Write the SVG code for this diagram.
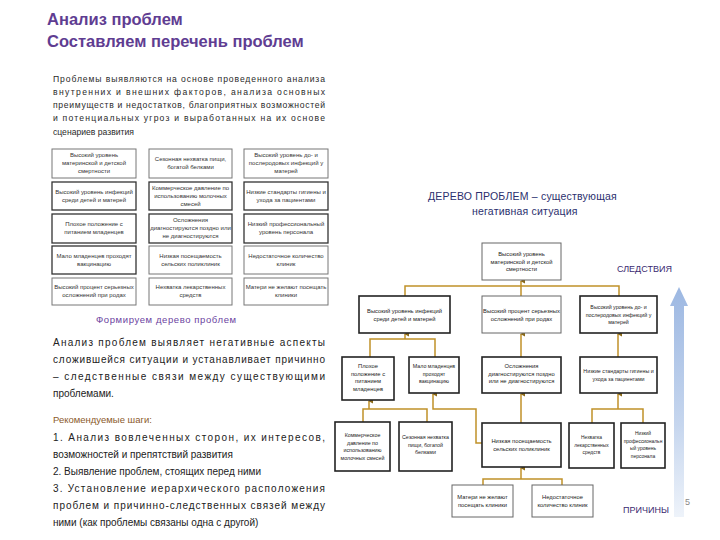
<svg xmlns="http://www.w3.org/2000/svg" width="720" height="540" viewBox="0 0 720 540">
<defs>
<style>
.title{font-family:"Liberation Sans",Arial,sans-serif;font-weight:bold;font-size:16.5px;fill:#5f3d92}
.p1{font-family:"Liberation Sans",Arial,sans-serif;font-size:8.6px;fill:#2a2a2a}
.p2{font-family:"Liberation Sans",Arial,sans-serif;font-size:10px;fill:#222}
.hd{font-family:"Liberation Sans",Arial,sans-serif;font-size:9.5px;fill:#6b3fa0;letter-spacing:0.6px}
.rec{font-family:"Liberation Sans",Arial,sans-serif;font-size:9.5px;fill:#8b5a2b}
.lbl{font-family:"Liberation Sans",Arial,sans-serif;font-size:10.5px;fill:#2b2f6e;letter-spacing:0.2px}
.cap{font-family:"Liberation Sans",Arial,sans-serif;font-size:9px;fill:#3a2a70}
.bt{font-family:"Liberation Sans",Arial,sans-serif;font-size:6px;fill:#333;text-anchor:middle}
.tt{font-family:"Liberation Sans",Arial,sans-serif;font-size:5.8px;fill:#222;text-anchor:middle}
.sm{font-size:5.3px}
.xs{font-size:4.9px}
.gb{fill:#fff;stroke:#777;stroke-width:1}
.gd{fill:#fff;stroke:#333;stroke-width:1.3}
.tb{fill:#fff;stroke:#222;stroke-width:1.6}
.tn{fill:#fff;stroke:#666;stroke-width:1}
.cn{fill:none;stroke:#c09128;stroke-width:1.5}
</style>
<marker id="ah" viewBox="0 0 6 6" refX="3" refY="1" markerWidth="5" markerHeight="5" orient="auto-start-reverse" markerUnits="userSpaceOnUse">
<path d="M0,6 L3,0 L6,6 Z" fill="#8a6a1a"/>
</marker>
<linearGradient id="ag" x1="0" y1="0" x2="0" y2="1">
<stop offset="0" stop-color="#9db8e2"/>
<stop offset="0.6" stop-color="#c6d6ee"/>
<stop offset="1" stop-color="#eef3fa"/>
</linearGradient>
</defs>
<rect width="720" height="540" fill="#fff"/>

<g id="title">
<text class="title" x="47" y="25">Анализ проблем</text>
<text class="title" x="47" y="47">Составляем перечень  проблем</text>
</g>

<g id="intro">
<text class="p1" x="53" y="82" textLength="272" lengthAdjust="spacing">Проблемы выявляются на основе проведенного анализа</text>
<text class="p1" x="53" y="95" textLength="272" lengthAdjust="spacing">внутренних и внешних факторов, анализа основных</text>
<text class="p1" x="53" y="108" textLength="272" lengthAdjust="spacing">преимуществ и недостатков, благоприятных возможностей</text>
<text class="p1" x="53" y="121" textLength="272" lengthAdjust="spacing">и потенциальных угроз  и выработанных на их основе</text>
<text class="p1" x="53" y="135">сценариев развития</text>
</g>

<g id="grid">
<g id="g11"><rect class="gb" x="52" y="149" width="84" height="29"/><text class="bt" x="94" y="157">Высокий уровень</text><text class="bt" x="94" y="165">материнской и детской</text><text class="bt" x="94" y="173">смертности</text></g>
<g id="g12"><rect class="gb" x="149" y="149" width="83" height="29"/><text class="bt" x="190.5" y="161">Сезонная нехватка пищи,</text><text class="bt" x="190.5" y="169">богатой белками</text></g>
<g id="g13"><rect class="gb" x="244" y="149" width="84" height="29"/><text class="bt" x="286" y="157">Высокий уровень до- и</text><text class="bt" x="286" y="165">послеродовых инфекций у</text><text class="bt" x="286" y="173">матерей</text></g>

<g id="g21"><rect class="gd" x="52" y="182" width="84" height="28"/><text class="bt" x="94" y="194">Высокий уровень инфекций</text><text class="bt" x="94" y="202">среди детей и матерей</text></g>
<g id="g22"><rect class="gd" x="149" y="182" width="83" height="28"/><text class="bt" x="190.5" y="190">Коммерческое давление по</text><text class="bt" x="190.5" y="198">использованию молочных</text><text class="bt" x="190.5" y="206">смесей</text></g>
<g id="g23"><rect class="gd" x="244" y="182" width="84" height="28"/><text class="bt" x="286" y="194">Низкие стандарты гигиены и</text><text class="bt" x="286" y="202">ухода за пациентами</text></g>

<g id="g31"><rect class="gd" x="52" y="214" width="84" height="29"/><text class="bt" x="94" y="226">Плохое положение с</text><text class="bt" x="94" y="234">питанием младенцев</text></g>
<g id="g32"><rect class="gd" x="149" y="214" width="83" height="29"/><text class="bt" x="190.5" y="222">Осложнения</text><text class="bt" x="190.5" y="230">диагностируются поздно или</text><text class="bt" x="190.5" y="238">не диагностируются</text></g>
<g id="g33"><rect class="gd" x="244" y="214" width="84" height="29"/><text class="bt" x="286" y="226">Низкий профессиональный</text><text class="bt" x="286" y="234">уровень персонала</text></g>

<g id="g41"><rect class="gd" x="52" y="246" width="84" height="28"/><text class="bt" x="94" y="258">Мало младенцев проходят</text><text class="bt" x="94" y="266">вакцинацию</text></g>
<g id="g42"><rect class="gb" x="149" y="246" width="83" height="28"/><text class="bt" x="190.5" y="258">Низкая посещаемость</text><text class="bt" x="190.5" y="266">сельских поликлиник</text></g>
<g id="g43"><rect class="gb" x="244" y="246" width="84" height="28"/><text class="bt" x="286" y="258">Недостаточное количество</text><text class="bt" x="286" y="266">клиник</text></g>

<g id="g51"><rect class="gb" x="52" y="278" width="84" height="27"/><text class="bt" x="94" y="289">Высокий процент серьезных</text><text class="bt" x="94" y="297">осложнений при родах</text></g>
<g id="g52"><rect class="gb" x="149" y="278" width="83" height="27"/><text class="bt" x="190.5" y="289">Нехватка лекарственных</text><text class="bt" x="190.5" y="297">средств</text></g>
<g id="g53"><rect class="gb" x="244" y="278" width="84" height="27"/><text class="bt" x="286" y="289">Матери не желают посещать</text><text class="bt" x="286" y="297">клиники</text></g>
</g>

<g id="left-text">
<text class="hd" x="96" y="323">Формируем дерево проблем</text>
<text class="p2" x="53" y="346" textLength="272" lengthAdjust="spacing">Анализ проблем выявляет негативные аспекты</text>
<text class="p2" x="53" y="363" textLength="272" lengthAdjust="spacing">сложившейся ситуации и устанавливает причинно</text>
<text class="p2" x="53" y="380" textLength="272" lengthAdjust="spacing">– следственные связи между существующими</text>
<text class="p2" x="53" y="397">проблемами.</text>
<text class="rec" x="53" y="423">Рекомендуемые шаги:</text>
<text class="p2" x="53" y="441" textLength="272" lengthAdjust="spacing">1.  Анализ вовлеченных сторон, их интересов,</text>
<text class="p2" x="53" y="458">возможностей и препятствий развития</text>
<text class="p2" x="53" y="475">2. Выявление проблем, стоящих перед ними</text>
<text class="p2" x="53" y="492" textLength="272" lengthAdjust="spacing">3.  Установление иерархического расположения</text>
<text class="p2" x="53" y="509" textLength="272" lengthAdjust="spacing">проблем и причинно-следственных связей между</text>
<text class="p2" x="53" y="526">ними (как проблемы связаны одна с другой)</text>
</g>

<g id="tree-title">
<text class="lbl" x="428" y="200">ДЕРЕВО   ПРОБЛЕМ – существующая</text>
<text class="lbl" x="472" y="215">негативная ситуация</text>
</g>

<g id="axis">
<path d="M674,306 L670,306 L679,287 L688,306 L684,306 L684,517 L674,517 Z" fill="url(#ag)"/>
<text class="cap" x="617" y="272">СЛЕДСТВИЯ</text>
<text class="cap" x="623" y="513" fill="#5a2a7a">ПРИЧИНЫ</text>
<text x="685" y="505" font-family="Liberation Sans, sans-serif" font-size="9" fill="#888">5</text>
</g>

<g id="connectors">
<path class="cn" d="M405,296 V286 H619 V296"/>
<path class="cn" d="M521,296 V281" marker-end="url(#ah)"/>
<path class="cn" d="M370,357 V339 H435 V357"/>
<path class="cn" d="M405,339 V334" marker-end="url(#ah)"/>
<path class="cn" d="M521,357 V334" marker-end="url(#ah)"/>
<path class="cn" d="M618,357 V334" marker-end="url(#ah)"/>
<path class="cn" d="M363,422 V409 H427 V422"/>
<path class="cn" d="M369,409 V401" marker-end="url(#ah)"/>
<path class="cn" d="M482,443 H476 V409 H433 V394" marker-end="url(#ah)"/>
<path class="cn" d="M521,423 V394" marker-end="url(#ah)"/>
<path class="cn" d="M592,423 V409 H643 V423"/>
<path class="cn" d="M618,409 V394" marker-end="url(#ah)"/>
<path class="cn" d="M483,485 V479 H562 V485"/>
<path class="cn" d="M521,479 V468" marker-end="url(#ah)"/>
</g>

<g id="n-top"><rect class="tn" x="482" y="243" width="79" height="37"/><text class="tt" x="521.5" y="256">Высокий уровень</text><text class="tt" x="521.5" y="263.5">материнской и детской</text><text class="tt" x="521.5" y="271">смертности</text></g>
<g id="n-l2a"><rect class="tb" x="359" y="296" width="91" height="37"/><text class="tt" x="404.5" y="313">Высокий уровень инфекций</text><text class="tt" x="404.5" y="321">среди детей и матерей</text></g>
<g id="n-l2b"><rect class="tn" x="482" y="296" width="79" height="37"/><text class="tt" x="521.5" y="313">Высокий процент серьезных</text><text class="tt" x="521.5" y="321">осложнений при родах</text></g>
<g id="n-l2c"><rect class="tb" x="580" y="296" width="77" height="37"/><text class="tt sm" x="618.5" y="309">Высокий уровень до- и</text><text class="tt sm" x="618.5" y="316.5">послеродовых инфекций у</text><text class="tt sm" x="618.5" y="324">матерей</text></g>
<g id="n-a"><rect class="tb" x="342" y="357" width="52" height="43"/><text class="tt" x="368" y="368">Плохое</text><text class="tt" x="368" y="375.5">положение с</text><text class="tt" x="368" y="383">питанием</text><text class="tt" x="368" y="390.5">младенцев</text></g>
<g id="n-b"><rect class="tb" x="409" y="357" width="50" height="36"/><text class="tt sm" x="434" y="368">Мало младенцев</text><text class="tt sm" x="434" y="375.5">проходят</text><text class="tt sm" x="434" y="383">вакцинацию</text></g>
<g id="n-c"><rect class="tb" x="482" y="357" width="79" height="36"/><text class="tt" x="521.5" y="368">Осложнения</text><text class="tt" x="521.5" y="375.5">диагностируются поздно</text><text class="tt" x="521.5" y="383">или не диагностируются</text></g>
<g id="n-d"><rect class="tb" x="580" y="357" width="77" height="36"/><text class="tt sm" x="618.5" y="373">Низкие стандарты гигиены и</text><text class="tt sm" x="618.5" y="381">ухода за пациентами</text></g>
<g id="n-e"><rect class="tb" x="335" y="422" width="55" height="49"/><text class="tt sm" x="362.5" y="437">Коммерческое</text><text class="tt sm" x="362.5" y="444.5">давление по</text><text class="tt sm" x="362.5" y="452">использованию</text><text class="tt sm" x="362.5" y="459.5">молочных смесей</text></g>
<g id="n-f"><rect class="tb" x="399" y="422" width="53" height="49"/><text class="tt sm" x="425.5" y="439">Сезонная нехватка</text><text class="tt sm" x="425.5" y="446.5">пищи, богатой</text><text class="tt sm" x="425.5" y="454">белками</text></g>
<g id="n-g"><rect class="tb" x="482" y="423" width="79" height="44"/><text class="tt" x="521.5" y="443">Низкая посещаемость</text><text class="tt" x="521.5" y="451">сельских поликлиник</text></g>
<g id="n-h"><rect class="tb" x="569" y="423" width="45" height="45"/><text class="tt xs" x="591.5" y="439">Нехватка</text><text class="tt xs" x="591.5" y="446.5">лекарственных</text><text class="tt xs" x="591.5" y="454">средств</text></g>
<g id="n-i"><rect class="tb" x="621" y="423" width="44" height="45"/><text class="tt xs" x="643" y="435">Низкий</text><text class="tt xs" x="643" y="442.5">профессиональн</text><text class="tt xs" x="643" y="450">ый уровень</text><text class="tt xs" x="643" y="457.5">персонала</text></g>
<g id="n-j"><rect class="tn" x="452" y="485" width="61" height="32"/><text class="tt" x="482.5" y="499">Матери не желают</text><text class="tt" x="482.5" y="507">посещать клиники</text></g>
<g id="n-k"><rect class="tn" x="532" y="485" width="61" height="32"/><text class="tt" x="562.5" y="499">Недостаточное</text><text class="tt" x="562.5" y="507">количество клиник</text></g>
</svg>
